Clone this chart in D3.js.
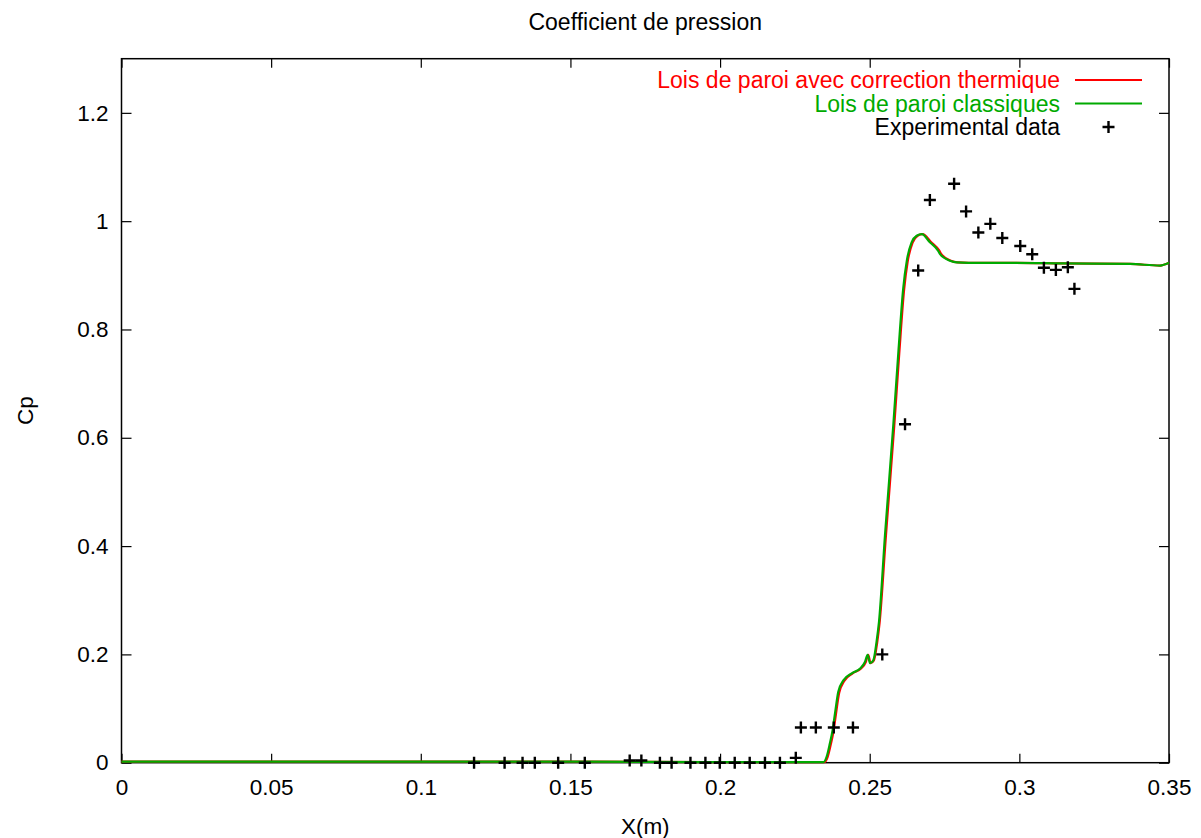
<!DOCTYPE html>
<html><head><meta charset="utf-8">
<script src="https://cdn.jsdelivr.net/npm/d3@7"></script>
<style>body{margin:0;background:#fff}svg{display:block}text{font-family:"Liberation Sans",Arial,sans-serif}</style>
</head><body>
<svg id="c" width="1201" height="838"></svg>
<script>
const title = "Coefficient de pression";
const xLabel = "X(m)";
const yLabel = "Cp";
const xTicks = [0,0.05,0.1,0.15,0.2,0.25,0.3,0.35];
const yTicks = [0,0.2,0.4,0.6,0.8,1,1.2];
const seriesNames = ["Lois de paroi avec correction thermique","Lois de paroi classiques","Experimental data"];
const seriesColors = ["#ff0000","#00aa00","#000000"];

// Red: Lois de paroi avec correction thermique
const redX = [0,0.05,0.1,0.15,0.2,0.2348,0.2359,0.2370,0.2379,0.2387,0.2398,0.2415,0.2443,0.2471,0.2487,0.2495,0.2503,0.2514,0.2525,0.2533,0.2554,0.2582,0.2599,0.2615,0.2627,0.2643,0.2660,0.2677,0.2704,0.2732,0.2738,0.2771,0.2794,0.2869,0.2979,0.3146,0.3370,0.3470,0.35];
const redY = [0.002,0.002,0.002,0.002,0.001,0.001,0.010,0.034,0.058,0.089,0.129,0.151,0.165,0.174,0.186,0.199,0.184,0.189,0.222,0.258,0.418,0.622,0.758,0.874,0.926,0.960,0.973,0.976,0.962,0.946,0.940,0.927,0.924,0.923,0.923,0.922,0.921,0.918,0.923];
// Green: Lois de paroi classiques
const greenX = [0,0.05,0.1,0.15,0.2,0.2345,0.2356,0.2367,0.2376,0.2384,0.2395,0.2412,0.2440,0.2468,0.2484,0.2493,0.2501,0.2512,0.2523,0.2531,0.2551,0.2579,0.2596,0.2612,0.2624,0.2640,0.2657,0.2674,0.2701,0.2729,0.2735,0.2768,0.2791,0.2869,0.2979,0.3146,0.3370,0.3470,0.35];
const greenY = [0.002,0.002,0.002,0.002,0.001,0.001,0.011,0.036,0.060,0.091,0.131,0.152,0.165,0.174,0.186,0.199,0.184,0.189,0.224,0.260,0.420,0.625,0.760,0.876,0.927,0.961,0.973,0.976,0.961,0.945,0.939,0.927,0.924,0.923,0.923,0.922,0.921,0.918,0.923];
// Experimental data
const expX = [0.1178,0.1280,0.1340,0.1381,0.1459,0.1548,0.1698,0.1737,0.1799,0.1838,0.1901,0.1951,0.1999,0.2049,0.2099,0.2150,0.2200,0.2253,0.2270,0.2320,0.2380,0.2444,0.2542,0.2618,0.2662,0.2701,0.2782,0.2822,0.2863,0.2903,0.2943,0.3003,0.3043,0.3082,0.3122,0.3162,0.3184];
const expY = [0,0,0,0,0,0,0.004,0.004,0,0,0,0,0,0,0,0,0,0.009,0.065,0.065,0.065,0.065,0.2,0.625,0.909,1.039,1.069,1.018,0.979,0.995,0.969,0.954,0.939,0.914,0.910,0.915,0.875];

const svg = d3.select("#c");
const L = 121.5, R = 1169, T = 58.7, B = 762.7;
const x = d3.scaleLinear().domain([0,0.35]).range([L,R]);
const y = d3.scaleLinear().domain([0,1.3]).range([B,T]);
const fs = 22.5, fsL = 23;

// ticks (inward, mirrored)
const gx = svg.append("g").attr("transform",`translate(0,${B})`)
  .call(d3.axisBottom(x).tickValues(xTicks).tickSize(-9).tickFormat(d=>String(+d.toFixed(2))));
const gxt = svg.append("g").attr("transform",`translate(0,${T})`)
  .call(d3.axisTop(x).tickValues(xTicks).tickSize(-9).tickFormat(""));
const gy = svg.append("g").attr("transform",`translate(${L},0)`)
  .call(d3.axisLeft(y).tickValues(yTicks).tickSize(-10).tickPadding(13).tickFormat(d=>String(+d.toFixed(1))));
const gyr = svg.append("g").attr("transform",`translate(${R},0)`)
  .call(d3.axisRight(y).tickValues(yTicks).tickSize(-10).tickFormat(""));
[gx,gxt,gy,gyr].forEach(g=>{
  g.select(".domain").remove();
  g.selectAll("line").attr("stroke","#000").attr("stroke-width",1.2);
  g.selectAll("text").attr("font-size",fs).attr("fill","#000").attr("font-family","Liberation Sans, Arial, sans-serif");
});
gx.selectAll("text").attr("y",24).attr("dy","0.35em");

// frame
svg.append("rect").attr("x",L).attr("y",T).attr("width",R-L).attr("height",B-T)
  .attr("fill","none").attr("stroke","#000").attr("stroke-width",1.5);

// lines
const line = d3.line().x(d=>x(d[0])).y(d=>y(d[1])).curve(d3.curveMonotoneX);
svg.append("path").datum(d3.zip(redX,redY)).attr("d",line)
  .attr("fill","none").attr("stroke",seriesColors[0]).attr("stroke-width",2.2).attr("stroke-linejoin","round");
svg.append("path").datum(d3.zip(greenX,greenY)).attr("d",line)
  .attr("fill","none").attr("stroke",seriesColors[1]).attr("stroke-width",2.2).attr("stroke-linejoin","round");

// experimental plus markers
const plus = (g,cx,cy)=>{
  g.append("path").attr("d",`M${cx-6},${cy}H${cx+6}M${cx},${cy-6}V${cy+6}`)
    .attr("stroke","#000").attr("stroke-width",2.4).attr("fill","none");
};
const gp = svg.append("g");
d3.zip(expX,expY).forEach(d=>plus(gp,x(d[0]),y(d[1])));

// legend
const legY = [80,103.5,127];
const textRight = 1060, sampleL = 1075, sampleR = 1142;
seriesNames.forEach((n,i)=>{
  svg.append("text").attr("x",textRight).attr("y",legY[i]).attr("dy","0.35em")
    .attr("text-anchor","end").attr("font-size",fsL).attr("fill",seriesColors[i]).text(n);
  if(i<2){
    svg.append("line").attr("x1",sampleL).attr("x2",sampleR).attr("y1",legY[i]).attr("y2",legY[i])
      .attr("stroke",seriesColors[i]).attr("stroke-width",2.2);
  } else {
    plus(svg,(sampleL+sampleR)/2,legY[i]);
  }
});

// titles
svg.append("text").attr("x",(L+R)/2).attr("y",22).attr("dy","0.35em").attr("text-anchor","middle")
  .attr("font-size",fsL).text(title);
svg.append("text").attr("x",(L+R)/2).attr("y",826).attr("dy","0.35em").attr("text-anchor","middle")
  .attr("font-size",fs).text(xLabel);
svg.append("text").attr("transform",`translate(25,${(T+B)/2}) rotate(-90)`).attr("dy","0.35em")
  .attr("text-anchor","middle").attr("font-size",fs).text(yLabel);
</script>
</body></html>
